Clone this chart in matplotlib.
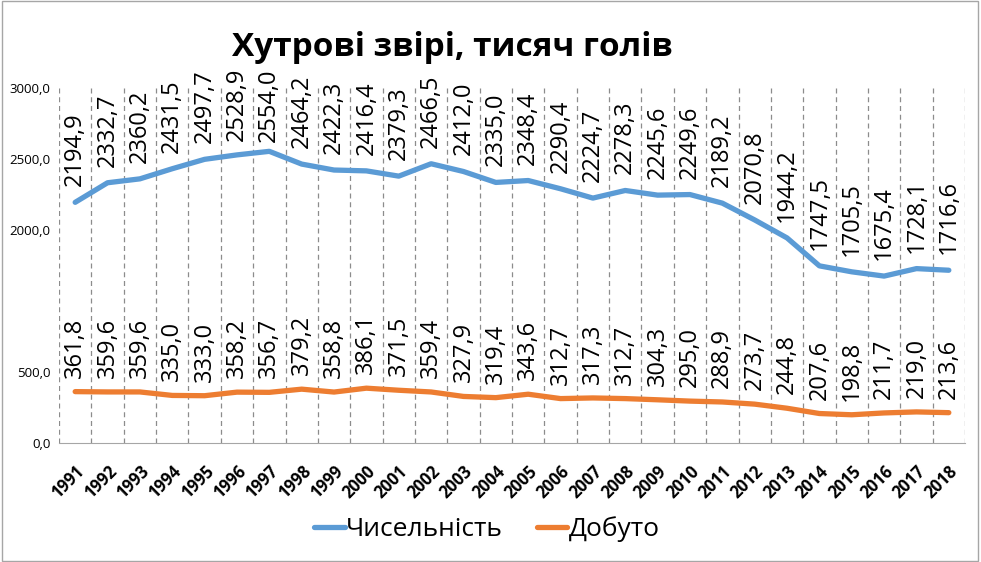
import matplotlib
matplotlib.use("Agg")
import matplotlib.pyplot as plt
import numpy as np

plt.rcParams['font.family'] = ['Open Sans', 'DejaVu Sans']

# data
years = list(range(1991, 2019))
chyselnist = [2194.9, 2332.7, 2360.2, 2431.5, 2497.7, 2528.9, 2554.0, 2464.2,
              2422.3, 2416.4, 2379.3, 2466.5, 2412.0, 2335.0, 2348.4, 2290.4,
              2224.7, 2278.3, 2245.6, 2249.6, 2189.2, 2070.8, 1944.2, 1747.5,
              1705.5, 1675.4, 1728.1, 1716.6]
dobuto = [361.8, 359.6, 359.6, 335.0, 333.0, 358.2, 356.7, 379.2,
          358.8, 386.1, 371.5, 359.4, 327.9, 319.4, 343.6, 312.7,
          317.3, 312.7, 304.3, 295.0, 288.9, 273.7, 244.8, 207.6,
          198.8, 211.7, 219.0, 213.6]

# the upper series sits on a broken axis: drawn 500 lower, ticks relabelled
axis_shift = 500
ytick_values = [0, 500, 1500, 2000, 2500]
ytick_labels = ['0,0', '500,0', '2000,0', '2500,0', '3000,0']

BLUE = '#5B9BD5'
ORANGE = '#ED7D31'

W, H = 981, 562
fig = plt.figure(figsize=(W / 100, H / 100), dpi=100)
ax = fig.add_axes([59 / W, 1 - 443 / H, (965 - 59) / W, (443 - 88) / H])

x = np.arange(len(years))
upper = np.array(chyselnist) - axis_shift

ax.plot(x, upper, color=BLUE, lw=3.8, solid_joinstyle='round',
        solid_capstyle='round', label='Чисельність', zorder=3)
ax.plot(x, dobuto, color=ORANGE, lw=3.8, solid_joinstyle='round',
        solid_capstyle='round', label='Добуто', zorder=3)

def fmt(v):
    return f'{v:.1f}'.replace('.', ',')

upper_labels = []
for xi, yv, real in zip(x, upper, chyselnist):
    a = ax.annotate(fmt(real), (xi, yv), xytext=(0, 16), textcoords='offset pixels',
                    rotation=90, ha='center', va='bottom', fontsize=17, zorder=4)
    upper_labels.append(a)
for xi, yv in zip(x, dobuto):
    ax.annotate(fmt(yv), (xi, yv), xytext=(0, 14), textcoords='offset pixels',
                rotation=90, ha='center', va='bottom', fontsize=17, zorder=4)

ax.set_xlim(-0.5, len(years) - 0.5)
ax.set_ylim(0, 2500)

ax.set_xticks(x)
ax.set_xticklabels([str(y) for y in years], rotation=45, ha='right',
                   rotation_mode='anchor', fontsize=12, fontweight='bold')
ax.set_yticks(ytick_values)
ax.set_yticklabels(ytick_labels, fontsize=9.5)
ax.tick_params(axis='x', length=0, pad=14)
ax.tick_params(axis='y', length=0, pad=6)

# dashed vertical lines between categories
ax.set_xticks(np.arange(-0.5, len(years), 1), minor=True)
ax.tick_params(which='minor', length=0)
ax.grid(which='minor', axis='x', color='#8c8c8c', linestyle=(0, (4, 3)), lw=0.9)

for side in ['top', 'right', 'left']:
    ax.spines[side].set_visible(False)
ax.spines['bottom'].set_color('#a6a6a6')

fig.text(452 / W, 1 - 47 / H, 'Хутрові звірі, тисяч голів', ha='center',
         va='center', fontsize=24, fontweight='bold')

fig.legend(loc='center', bbox_to_anchor=(487 / W, 1 - 529 / H), ncol=2,
           frameon=False, fontsize=19, handlelength=1.15, handletextpad=0.05,
           columnspacing=1.3)

fig.patches.append(plt.Rectangle((0.002, 0.002), 0.995, 0.996, fill=False,
                                 edgecolor='#a6a6a6', lw=1,
                                 transform=fig.transFigure))

# keep the top labels under the title, as the spreadsheet does
top_px = H - 68
fig.canvas.draw()
for a in upper_labels:
    bb = a.get_window_extent()
    if bb.y1 > top_px:
        a.xyann = (0, a.xyann[1] - (bb.y1 - top_px))

fig.savefig('out.png', dpi=100)
